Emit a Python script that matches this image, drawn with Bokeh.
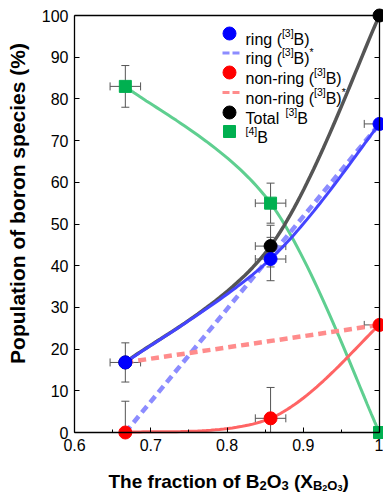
import numpy as np
from bokeh.plotting import figure
from bokeh.models import Label, LinearAxis, FixedTicker, CustomJSTickFormatter, Range1d
from bokeh.embed import file_html
from bokeh.resources import INLINE

# ---------------- data ----------------
x_comp = [2/3, 6/7, 1.0]                 # fraction of B2O3
ring = [16.8, 41.6, 74.0]                # ring ([3]B)
ring_yerr = [4.7, 5.2, 0.0]
ring_xerr = [0.02, 0.02, 0.02]
nonring = [0.0, 3.4, 25.8]               # non-ring ([3]B)
nonring_yerr = [7.5, 7.4, 0.0]
nonring_xerr = [0.0, 0.02, 0.02]
total = [16.8, 44.7, 100.0]              # Total [3]B
total_yerr = [0.0, 5.0, 0.0]
total_xerr = [0.0, 0.02, 0.0]
b4 = [83.0, 55.0, 0.0]                   # [4]B
b4_yerr = [5.0, 4.8, 0.0]
b4_xerr = [0.02, 0.02, 0.0]
ring_star_x = [2/3, 1.0]                 # ring ([3]B)*
ring_star = [0.0, 74.0]
nonring_star_x = [2/3, 1.0]              # non-ring ([3]B)*
nonring_star = [16.8, 25.8]
x_ticks = [0.6, 0.7, 0.8, 0.9, 1.0]
x_minor = [0.65, 0.75, 0.85, 0.95]
y_ticks = list(range(0, 101, 10))

# ---------------- layout ----------------
W, H = 383, 492
FL, FR, FT, FB = 74, 379, 15, 432   # plot-box edges in canvas px
X0, X1, Y0, Y1 = 0.6, 1.0, 0.0, 100.0
sx = (FR - FL) / (X1 - X0)
sy = (FB - FT) / (Y1 - Y0)
XR = (X0 - FL / sx, X1 + (W - FR) / sx)
YR = (Y0 - (H - FB) / sy, Y1 + FT / sy)
FONT = "Liberation Sans"

BLUE, RED, BLACK, GREEN = "#0000ff", "#ff0000", "#000000", "#00b050"
BLUE_LINE, RED_LINE, BLACK_LINE, GREEN_LINE = "#4444ff", "#ff6464", "#555555", "#5fcf90"
BLUE_DASH, RED_DASH = "#8c8cff", "#ff8c8c"

p = figure(width=W, height=H, x_range=Range1d(*XR), y_range=Range1d(*YR),
           output_backend="svg", toolbar_location=None, min_border=0,
           min_border_left=0, min_border_right=0, min_border_top=0, min_border_bottom=0)
p.xgrid.visible = False
p.ygrid.visible = False
p.outline_line_color = None
p.background_fill_color = "white"
p.border_fill_color = "white"

xa = p.xaxis[0]
xa.fixed_location = Y0
xa.bounds = (X0, X1)
xa.ticker = FixedTicker(ticks=x_ticks, minor_ticks=x_minor)
xa.formatter = CustomJSTickFormatter(code="return tick.toFixed(1).replace(/\\.0$/, '')")
ya = p.yaxis[0]
ya.fixed_location = X0
ya.bounds = (Y0, Y1)
ya.ticker = FixedTicker(ticks=y_ticks)
for ax in (xa, ya):
    ax.major_tick_in = 5
    ax.major_tick_out = 0
    ax.minor_tick_in = 3
    ax.minor_tick_out = 0
    ax.axis_line_width = 1.3
    ax.major_tick_line_width = 1
    ax.major_label_text_font = FONT
    ax.major_label_text_font_size = "16px"
    ax.major_label_text_color = "black"
    ax.major_label_standoff = 6
ya.minor_tick_line_color = None

ra = LinearAxis(fixed_location=X1, bounds=(Y0, Y1), ticker=FixedTicker(ticks=y_ticks),
                major_tick_in=5, major_tick_out=0, minor_tick_line_color=None,
                major_label_text_color=None, axis_line_width=1.3)
p.add_layout(ra, "right")
ta = LinearAxis(fixed_location=Y1, bounds=(X0, X1), ticker=FixedTicker(ticks=x_ticks),
                major_tick_line_color=None, minor_tick_line_color=None,
                major_label_text_color=None, axis_line_width=1.3)
p.add_layout(ta, "above")

# ---------------- smoothed curves (Excel-like Bezier smoothing) ----------------
def smooth(xs, ys, n=40):
    P = np.column_stack([xs, ys]).astype(float)
    m = len(P)
    out = []
    for i in range(m - 1):
        pm = P[i - 1] if i > 0 else P[i]
        pp = P[i + 2] if i + 2 < m else P[i + 1]
        c1 = P[i] + (P[i + 1] - pm) / 6.0
        c2 = P[i + 1] - (pp - P[i]) / 6.0
        t = np.linspace(0, 1, n)[:, None]
        seg = ((1 - t) ** 3) * P[i] + 3 * ((1 - t) ** 2) * t * c1 + 3 * (1 - t) * t ** 2 * c2 + t ** 3 * P[i + 1]
        out.append(seg if i == 0 else seg[1:])
    a = np.vstack(out)
    return a[:, 0], a[:, 1]

# error bars, limited to the plot box
def errorbars(xs, ys, yerr, xerr):
    vx, vy0, vy1, hx0, hx1, hy = [], [], [], [], [], []
    cvx, cvy, chx, chy = [], [], [], []
    for xi, yi, ye, xe in zip(xs, ys, yerr, xerr):
        if ye > 0:
            lo, hi = yi - ye, yi + ye
            vx.append(xi); vy0.append(max(lo, Y0)); vy1.append(min(hi, Y1))
            for v in (lo, hi):
                if Y0 <= v <= Y1:
                    cvx.append(xi); cvy.append(v)
        if xe > 0:
            lo, hi = xi - xe, xi + xe
            hx0.append(max(lo, X0)); hx1.append(min(hi, X1)); hy.append(yi)
            for v in (lo, hi):
                if X0 <= v <= X1:
                    chx.append(v); chy.append(yi)
    ec = "#555555"
    if vx:
        p.segment(x0=vx, y0=vy0, x1=vx, y1=vy1, line_color=ec, line_width=1)
    if cvx:
        p.scatter(x=cvx, y=cvy, marker="dash", size=8, line_color=ec, line_width=1)
    if hy:
        p.segment(x0=hx0, y0=hy, x1=hx1, y1=hy, line_color=ec, line_width=1)
    if chx:
        p.scatter(x=chx, y=chy, marker="dash", angle=np.pi / 2, size=8, line_color=ec, line_width=1)

errorbars(x_comp, b4, b4_yerr, b4_xerr)
errorbars(x_comp, ring, ring_yerr, ring_xerr)
errorbars(x_comp, nonring, nonring_yerr, nonring_xerr)
errorbars(x_comp, total, total_yerr, total_xerr)

gx, gy = smooth(x_comp, b4)
p.line(gx, gy, line_color=GREEN_LINE, line_width=3)
p.line(ring_star_x, ring_star, line_color=BLUE_DASH, line_width=4.5, line_dash="8 5")
p.line(nonring_star_x, nonring_star, line_color=RED_DASH, line_width=4.5, line_dash="8 5")
rx, ry = smooth(x_comp, nonring)
p.line(rx, ry, line_color=RED_LINE, line_width=3)
kx, ky = smooth(x_comp, total)
p.line(kx, ky, line_color=BLACK_LINE, line_width=3.5)
bx, by = smooth(x_comp, ring)
p.line(bx, by, line_color=BLUE_LINE, line_width=3)

p.scatter(x_comp, b4, marker="square", size=12, fill_color=GREEN, line_color=GREEN)
p.scatter(x_comp, nonring, marker="circle", size=13, fill_color=RED, line_color=RED)
p.scatter(x_comp, total, marker="circle", size=13, fill_color=BLACK, line_color=BLACK)
p.scatter(x_comp, ring, marker="circle", size=13, fill_color=BLUE, line_color=BLUE)

# ---------------- text helpers (Arial / Liberation Sans advance widths) ----------------
W_REG = {" ": 278, "(": 333, ")": 333, "[": 278, "]": 278, "*": 389, "-": 333,
         "B": 667, "T": 611, "a": 556, "e": 556, "g": 556, "i": 222, "l": 222,
         "n": 556, "o": 556, "r": 333, "t": 278}
W_BOLD = {" ": 278, "(": 333, ")": 333, "B": 722, "O": 778, "T": 611, "X": 667,
          "a": 556, "c": 556, "e": 556, "f": 333, "h": 611, "i": 278, "n": 611,
          "o": 611, "r": 389, "t": 333}

def twidth(s, size, bold):
    tbl = W_BOLD if bold else W_REG
    return sum(tbl.get(c, 556) for c in s) * size / 1000.0

def rich(cx, cy, parts, styles, bold):
    """cx, cy: canvas px (from top-left) of the baseline start."""
    x = cx
    for text, kind in parts:
        size, dy = styles[kind]
        lead = len(text) - len(text.lstrip(" "))
        x += twidth(" " * lead, size, bold)
        body = text.strip(" ")
        if body:
            p.add_layout(Label(x=x, y=H - (cy + dy), x_units="screen", y_units="screen",
                               text=body, text_font=FONT, text_font_size=f"{size}px",
                               text_font_style="bold" if bold else "normal",
                               text_color="black", text_baseline="alphabetic", text_align="left"))
        x += twidth(text.lstrip(" "), size, bold)

# x-axis title
title_styles = {"n": (19, 0), "sub": (13, 4), "subsub": (9, 6.5)}
rich(108, 481, [("The fraction of B", "n"), ("2", "sub"), ("O", "n"), ("3", "sub"),
                (" (X", "n"), ("B", "sub"), ("2", "subsub"), ("O", "sub"), ("3", "subsub"),
                (")", "n")], title_styles, True)

# y-axis title
p.add_layout(Label(x=17, y=H - 203, x_units="screen", y_units="screen",
                   text="Population of boron species (%)", angle=np.pi / 2,
                   text_font=FONT, text_font_size="21px", text_font_style="bold",
                   text_color="black", text_align="center", text_baseline="middle"))

# ---------------- legend ----------------
def px2x(px):
    return XR[0] + px / sx

def px2y(py):
    return YR[1] - py / sy

row_y = [33, 52.5, 72, 92, 112, 131]
icon_cx, dash_x0, dash_x1, text_x = 229, 222, 240, 245
leg_styles = {"n": (16, 0), "sup": (10.5, -6.5)}

p.scatter([px2x(icon_cx)], [px2y(row_y[0])], marker="circle", size=13, fill_color=BLUE, line_color=BLUE)
p.line([px2x(dash_x0), px2x(dash_x1)], [px2y(row_y[1])] * 2, line_color=BLUE_DASH, line_width=3, line_dash="7 3")
p.scatter([px2x(icon_cx)], [px2y(row_y[2])], marker="circle", size=13, fill_color=RED, line_color=RED)
p.line([px2x(dash_x0), px2x(dash_x1)], [px2y(row_y[3])] * 2, line_color=RED_DASH, line_width=3, line_dash="7 3")
p.scatter([px2x(icon_cx)], [px2y(row_y[4])], marker="circle", size=13, fill_color=BLACK, line_color=BLACK)
p.scatter([px2x(icon_cx)], [px2y(row_y[5])], marker="square", size=12, fill_color=GREEN, line_color=GREEN)

legend_rows = [
    [("ring (", "n"), ("[3]", "sup"), ("B)", "n")],
    [("ring (", "n"), ("[3]", "sup"), ("B)", "n"), ("*", "sup")],
    [("non-ring (", "n"), ("[3]", "sup"), ("B)", "n")],
    [("non-ring (", "n"), ("[3]", "sup"), ("B)", "n"), ("*", "sup")],
    [("Total ", "n"), ("[3]", "sup"), ("B", "n")],
    [("[4]", "sup"), ("B", "n")],
]
for ry_, parts in zip(row_y, legend_rows):
    rich(text_x, ry_ + 5.7, parts, leg_styles, False)

open("out.html", "w").write(file_html(p, INLINE))
